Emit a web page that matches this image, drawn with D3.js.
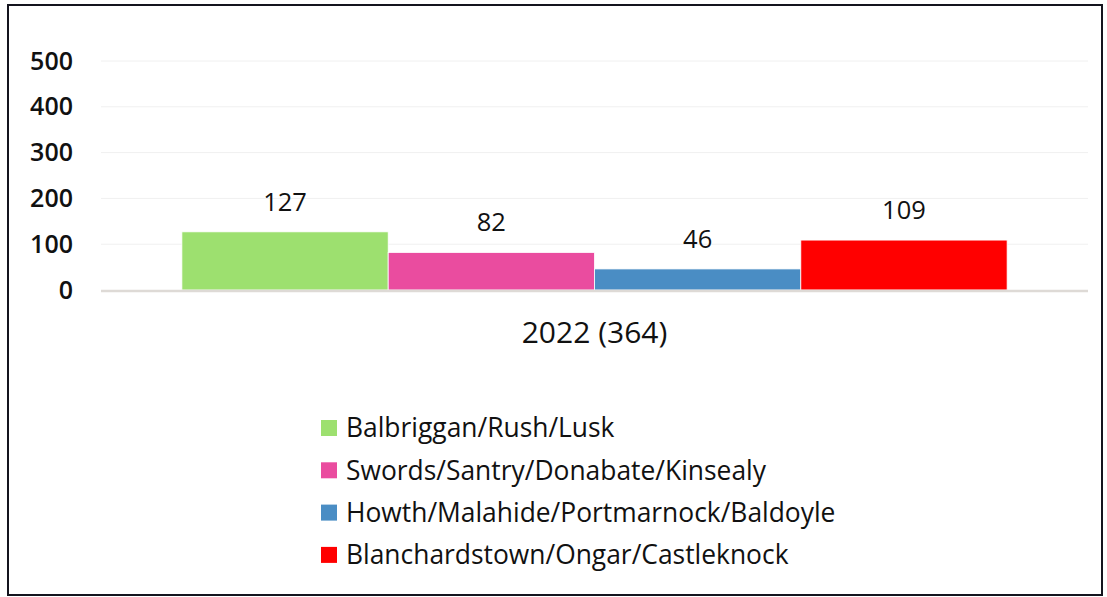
<!DOCTYPE html>
<html>
<head>
<meta charset="utf-8">
<script src="https://cdn.jsdelivr.net/npm/d3@7"></script>
<style>
  body { margin: 0; background: #fff; }
  svg { display: block; font-family: 'Open Sans', sans-serif; }
</style>
</head>
<body>
<div class="chart"></div>
<script>
// data
const category = '2022 (364)';
const areas = ['Balbriggan/Rush/Lusk', 'Swords/Santry/Donabate/Kinsealy',
               'Howth/Malahide/Portmarnock/Baldoyle', 'Blanchardstown/Ongar/Castleknock'];
const counts = [127, 82, 46, 109];
const colors = ['#9de06f', '#ea4c9f', '#4a8dc4', '#ff0000'];
const yTicks = [0, 100, 200, 300, 400, 500];

const W = 1107, H = 597;
const margin = { top: 61, left: 101, right: 19, bottom: 307 };
const plotW = W - margin.left - margin.right;
const plotH = H - margin.top - margin.bottom;

const svg = d3.select('.chart').append('svg')
    .attr('width', W).attr('height', H);

// frame
svg.append('rect')
    .attr('x', 8).attr('y', 5).attr('width', W - 13).attr('height', H - 7)
    .attr('fill', '#fff').attr('stroke', '#14141e').attr('stroke-width', 2);

const g = svg.append('g').attr('transform', `translate(${margin.left},${margin.top})`);

const y = d3.scaleLinear().domain([0, 500]).range([plotH, 0]);
const x0 = d3.scaleBand().domain([category]).range([0, plotW]).paddingOuter(0.098);
const x1 = d3.scaleBand().domain(areas).range([0, x0.bandwidth()]);

// grid
g.append('g').selectAll('line').data(yTicks.slice(1)).join('line')
    .attr('x1', 0).attr('x2', plotW)
    .attr('y1', d => y(d)).attr('y2', d => y(d))
    .attr('stroke', '#f0f0f0').attr('stroke-width', 1);

// y axis labels (axis sets its own font, so override it)
const yAxis = d3.axisLeft(y).tickValues(yTicks).tickSize(0).tickPadding(28);
g.append('g').call(yAxis)
    .attr('font-family', null).attr('font-size', null)
    .call(s => s.select('.domain').remove())
    .selectAll('text')
    .style('font-family', "'Open Sans', sans-serif")
    .style('font-size', '25px').style('font-weight', 600).style('fill', '#111');

// bars
const bx = x0(category);
g.append('g').selectAll('rect').data(counts).join('rect')
    .attr('x', (d, i) => bx + x1(areas[i]))
    .attr('width', x1.bandwidth())
    .attr('y', d => y(d))
    .attr('height', d => y(0) - y(d))
    .attr('fill', (d, i) => colors[i])
    .attr('stroke', '#fff').attr('stroke-width', 0.8);

// value labels
g.append('g').selectAll('text').data(counts).join('text')
    .attr('x', (d, i) => bx + x1(areas[i]) + x1.bandwidth() / 2)
    .attr('y', d => y(d) - 21)
    .attr('text-anchor', 'middle')
    .style('font-size', '25.5px').style('fill', '#111')
    .text(d => d);

// baseline
g.append('line')
    .attr('x1', 0).attr('x2', plotW)
    .attr('y1', y(0) + 1).attr('y2', y(0) + 1)
    .attr('stroke', '#dedad6').attr('stroke-width', 2.5);

// category label
g.append('text')
    .attr('x', bx + x0.bandwidth() / 2).attr('y', y(0) + 53)
    .attr('text-anchor', 'middle')
    .style('font-size', '30px').style('fill', '#111')
    .text(category);

// legend
const legend = svg.append('g').attr('transform', 'translate(321,428)');
const rows = legend.selectAll('g').data(areas).join('g')
    .attr('transform', (d, i) => `translate(0,${i * 42.3})`);
rows.append('rect')
    .attr('x', 0).attr('y', -8).attr('width', 16).attr('height', 16)
    .attr('fill', (d, i) => colors[i]);
rows.append('text')
    .attr('x', 25).attr('y', 0).attr('dy', '0.35em')
    .style('font-size', '26.4px').style('fill', '#111')
    .text(d => d);
</script>
</body>
</html>
